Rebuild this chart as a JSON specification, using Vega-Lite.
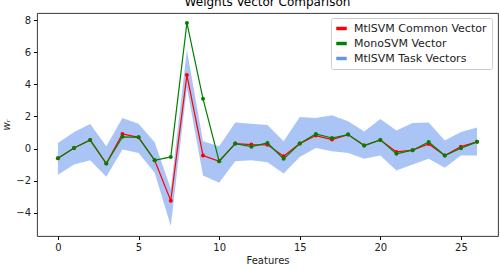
{
  "$schema": "https://vega.github.io/schema/vega-lite/v6.json",
  "autosize": "none",
  "width": 461,
  "height": 223,
  "padding": {"left": 37, "top": 13, "right": 2, "bottom": 33},
  "background": "white",
  "title": {"text": "Weights Vector Comparison", "fontSize": 12, "font": "DejaVu Sans", "fontWeight": "normal", "color": "black", "offset": 4},
  "datasets": {
    "band": [
      {"x": 0, "lo": -1.63, "hi": 0.35},
      {"x": 1, "lo": -1.0, "hi": 1.04},
      {"x": 2, "lo": -0.73, "hi": 1.53},
      {"x": 3, "lo": -1.76, "hi": 0.14},
      {"x": 4, "lo": -0.06, "hi": 1.9},
      {"x": 5, "lo": -0.27, "hi": 1.55},
      {"x": 6, "lo": -1.5, "hi": 0.4},
      {"x": 7, "lo": -4.83, "hi": -2.5},
      {"x": 8, "lo": 3.8, "hi": 6.15},
      {"x": 9, "lo": -1.68, "hi": 0.45},
      {"x": 10, "lo": -2.13, "hi": 0.14},
      {"x": 11, "lo": -0.79, "hi": 1.63},
      {"x": 12, "lo": -0.73, "hi": 1.55},
      {"x": 13, "lo": -0.85, "hi": 1.47},
      {"x": 14, "lo": -1.55, "hi": 0.45},
      {"x": 15, "lo": -0.52, "hi": 1.97},
      {"x": 16, "lo": 0.04, "hi": 1.9},
      {"x": 17, "lo": -0.17, "hi": 2.07},
      {"x": 18, "lo": -0.27, "hi": 1.7},
      {"x": 19, "lo": -0.64, "hi": 1.06},
      {"x": 20, "lo": -0.43, "hi": 1.84},
      {"x": 21, "lo": -1.37, "hi": 1.12},
      {"x": 22, "lo": -1.0, "hi": 1.6},
      {"x": 23, "lo": -0.64, "hi": 1.63},
      {"x": 24, "lo": -1.2, "hi": 0.5},
      {"x": 25, "lo": -0.43, "hi": 1.04},
      {"x": 26, "lo": -0.43, "hi": 1.32}
    ],
    "common": [
      {"x": 0, "w": -0.6}, {"x": 1, "w": 0.04}, {"x": 2, "w": 0.53}, {"x": 3, "w": -0.93},
      {"x": 4, "w": 0.91}, {"x": 5, "w": 0.7}, {"x": 6, "w": -0.73}, {"x": 7, "w": -3.25},
      {"x": 8, "w": 4.58}, {"x": 9, "w": -0.43}, {"x": 10, "w": -0.79}, {"x": 11, "w": 0.31},
      {"x": 12, "w": 0.25}, {"x": 13, "w": 0.23}, {"x": 14, "w": -0.48}, {"x": 15, "w": 0.31},
      {"x": 16, "w": 0.81}, {"x": 17, "w": 0.56}, {"x": 18, "w": 0.87}, {"x": 19, "w": 0.19},
      {"x": 20, "w": 0.54}, {"x": 21, "w": -0.21}, {"x": 22, "w": -0.1}, {"x": 23, "w": 0.29},
      {"x": 24, "w": -0.43}, {"x": 25, "w": 0.12}, {"x": 26, "w": 0.42}
    ],
    "mono": [
      {"x": 0, "w": -0.6}, {"x": 1, "w": 0.04}, {"x": 2, "w": 0.53}, {"x": 3, "w": -0.93},
      {"x": 4, "w": 0.73}, {"x": 5, "w": 0.7}, {"x": 6, "w": -0.73}, {"x": 7, "w": -0.52},
      {"x": 8, "w": 7.83}, {"x": 9, "w": 3.1}, {"x": 10, "w": -0.79}, {"x": 11, "w": 0.31},
      {"x": 12, "w": 0.12}, {"x": 13, "w": 0.35}, {"x": 14, "w": -0.64}, {"x": 15, "w": 0.31},
      {"x": 16, "w": 0.91}, {"x": 17, "w": 0.66}, {"x": 18, "w": 0.87}, {"x": 19, "w": 0.19},
      {"x": 20, "w": 0.54}, {"x": 21, "w": -0.33}, {"x": 22, "w": -0.1}, {"x": 23, "w": 0.41},
      {"x": 24, "w": -0.43}, {"x": 25, "w": 0.02}, {"x": 26, "w": 0.42}
    ]
  },
  "encoding": {
    "x": {
      "field": "x", "type": "quantitative",
      "scale": {"domain": [-1.3, 27.3], "nice": false, "zero": false},
      "axis": {"title": "Features", "values": [0, 5, 10, 15, 20, 25], "grid": false, "domain": false,
               "tickSize": 3.5, "tickColor": "black", "labelPadding": 3, "labelFontSize": 10,
               "labelColor": "#222", "titleFontSize": 10, "titleFontWeight": "normal", "titleColor": "#222", "titlePadding": 3}
    }
  },
  "layer": [
    {
      "data": {"name": "band"},
      "mark": {"type": "area", "opacity": 0.55},
      "encoding": {
        "y": {"field": "lo", "type": "quantitative",
              "scale": {"domain": [-5.45, 8.45], "nice": false, "zero": false},
              "axis": {"title": "wᵣ", "values": [-4, -2, 0, 2, 4, 6, 8], "labelOverlap": false}},
        "y2": {"field": "hi"},
        "color": {"datum": "MtlSVM Task Vectors", "type": "nominal",
                  "scale": {"domain": ["MtlSVM Common Vector", "MonoSVM Vector", "MtlSVM Task Vectors"],
                            "range": ["#ff0000", "#008000", "#6495ED"]},
                  "legend": {"title": null, "orient": "none", "legendX": 294, "legendY": 5,
                             "symbolType": "M-1,-0.33L1,-0.33L1,0.33L-1,0.33Z", "symbolSize": 110,
                             "symbolOpacity": 1, "symbolStrokeWidth": 0,
                             "labelFontSize": 11, "labelColor": "#222", "labelOffset": 7,
                             "rowPadding": 3, "padding": 5, "strokeColor": "#ccc", "fillColor": "white",
                             "cornerRadius": 2}}
      }
    },
    {
      "data": {"name": "common"},
      "mark": {"type": "line", "strokeWidth": 1.2, "point": {"size": 16, "filled": true}},
      "encoding": {
        "y": {"field": "w", "type": "quantitative",
              "axis": {"title": "wᵣ", "values": [-4, -2, 0, 2, 4, 6, 8], "labelOverlap": false}},
        "color": {"datum": "MtlSVM Common Vector", "type": "nominal"}
      }
    },
    {
      "data": {"name": "mono"},
      "mark": {"type": "line", "strokeWidth": 1.2, "point": {"size": 16, "filled": true}},
      "encoding": {
        "y": {"field": "w", "type": "quantitative",
              "axis": {"title": "wᵣ", "values": [-4, -2, 0, 2, 4, 6, 8], "labelOverlap": false}},
        "color": {"datum": "MonoSVM Vector", "type": "nominal"}
      }
    }
  ],
  "config": {
    "font": "DejaVu Sans",
    "view": {"stroke": "#222", "strokeWidth": 0.9},
    "axisY": {"grid": false, "domain": false, "tickSize": 3.5, "tickColor": "black", "labelPadding": 3,
              "labelFontSize": 10, "labelColor": "#222", "titleFontSize": 10, "titleFontWeight": "normal",
              "titleFontStyle": "italic", "titleColor": "#222", "titlePadding": 4, "labelOverlap": false}
  }
}
